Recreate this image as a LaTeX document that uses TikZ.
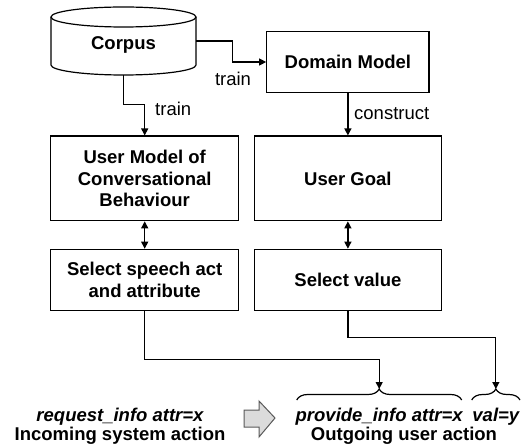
\documentclass[tikz,border=0pt]{standalone}
\usepackage{fontspec}
\setmainfont{Liberation Sans}
\usetikzlibrary{arrows.meta,calc,decorations.pathreplacing}
\begin{document}
\begin{tikzpicture}[x=1pt,y=-1pt,
  every node/.style={font=\fontsize{18.5}{21.3}\selectfont},
  box/.style={draw,line width=1.2pt,fill=white,align=center,inner sep=2pt,font=\fontsize{18.5}{21.3}\selectfont\bfseries},
  conn/.style={line width=1.2pt,-{Triangle[length=7pt,width=7pt]}},
  dconn/.style={line width=1.2pt,{Triangle[length=7pt,width=7pt]}-{Triangle[length=7pt,width=7pt]}},
  lbl/.style={font=\fontsize{18.5}{21.3}\selectfont,inner sep=0pt},
  act/.style={font=\fontsize{18.5}{21.3}\selectfont\bfseries\itshape,inner sep=0pt},
  captxt/.style={font=\fontsize{18.5}{21.3}\selectfont\bfseries,inner sep=0pt},
  brc/.style={line width=1.2pt,decorate,decoration={brace,amplitude=11pt}}
]
\useasboundingbox (0,0) rectangle (527,446);
% cylinder
\draw[line width=1.2pt,fill=white] (51,17) -- (51,65)
  .. controls (51,70.5) and (83.5,75) .. (123.5,75)
  .. controls (163.5,75) and (196,70.5) .. (196,65) -- (196,17);
\draw[line width=1.2pt] (123.5,17) ellipse [x radius=72.5pt, y radius=10pt];
\node[minimum width=145pt,minimum height=68pt,inner sep=0pt] (corpus) at (123.5,41) {};
\node[captxt] (corpuslabel) at (123.5,45) {Corpus};
% boxes
\node[box,minimum width=162.3pt,minimum height=60.6pt] (dm) at (347.9,62) {Domain Model};
\node[box,minimum width=188pt,minimum height=84.7pt] (um) at (144.7,178.4) {User Model of\\Conversational\\Behaviour};
\node[box,minimum width=186.6pt,minimum height=84.7pt] (ug) at (347.9,178.4) {User Goal};
\node[box,minimum width=188pt,minimum height=61.4pt] (ss) at (144.7,280) {Select speech act\\and attribute};
\node[box,minimum width=186.6pt,minimum height=61.4pt] (sv) at (347.9,280) {Select value};
% connectors
\draw[conn] (corpus.east) -- ++(36,0) |- (dm.west);
\node[lbl] (train1) at (233,79) {train};
\draw[conn] (corpus.south) |- ($(um.north)+(0,-31)$) -- (um.north);
\node[lbl,anchor=west] (train2) at (155,109) {train};
\draw[conn] (dm.south) -- (ug.north);
\node[lbl,anchor=west] (construct) at (354,114) {construct};
\draw[dconn] (um.south) -- (ss.north);
\draw[dconn] (ug.south) -- (sv.north);
% braces
\coordinate (b1l) at (296.7,400);
\coordinate (b1r) at (461.7,400);
\coordinate (b2l) at (471.7,400);
\coordinate (b2r) at (520,400);
\coordinate (tip1) at (379.2,389);
\coordinate (tip2) at (495.85,389);
\draw[brc] (b1l) -- (b1r);
\draw[brc] (b2l) -- (b2r);
\draw[conn] (ss.south) |- ($(tip1)+(0,-29.7)$) -- (tip1);
\draw[conn] (sv.south) |- ($(tip2)+(0,-51.7)$) -- (tip2);
% bottom texts
\node[act] (req) at (120,417) {request\_info attr=x};
\node[captxt] (inc) at (120,436) {Incoming system action};
\node[act] (prov) at (379.2,417) {provide\_info attr=x};
\node[act] (val) at (495.85,417) {val=y};
\node[captxt] (out) at (404,436) {Outgoing user action};
% block arrow
\draw[line width=1pt,draw=black!65,fill=black!14] (244,410) -- (259,410) -- (259,401) -- (275,418)
  -- (259,437) -- (259,427) -- (244,427) -- cycle;
\end{tikzpicture}
\end{document}
